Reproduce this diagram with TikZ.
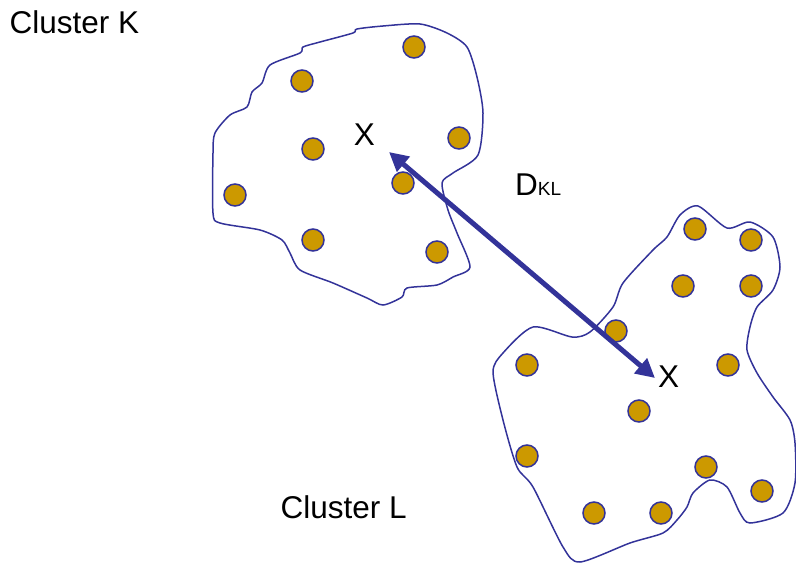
\documentclass[tikz,border=0pt]{standalone}
\usepackage{fontspec}
\setmainfont{Liberation Sans}
\usetikzlibrary{arrows.meta}
\definecolor{navy}{RGB}{51,51,153}
\definecolor{gold}{RGB}{204,153,0}
\tikzset{
  outline/.style={draw=navy, line width=1.5pt},
  dot/.style={circle, draw=navy, fill=gold, line width=1.5pt, minimum size=22pt, inner sep=0pt},
  lbl/.style={inner sep=0pt, anchor=base, font=\fontsize{31.5}{31.5}\selectfont},
  dist/.style={draw=navy, line width=5pt, {Triangle[length=19pt,width=19pt]}-{Triangle[length=19pt,width=19pt]}}
}
\begin{document}
\begin{tikzpicture}[x=1pt, y=-1pt]
\useasboundingbox (0,0) rectangle (796,565);

% outline of cluster K
\draw[outline] plot[smooth cycle, tension=0.45] coordinates {
  (420,24) (447,33) (467,47) (477,77) (483,113) (478,155) (453,173) (442,183)
  (448,210) (457,233) (470,267) (453,277) (437,285) (407,288) (402,297)
  (383,305) (367,298) (333,283) (300,270) (290,253) (282,240) (260,230)
  (220,223) (213,213) (213,153) (215,133) (230,115) (247,107) (252,92)
  (262,83) (270,65) (300,53) (303,47) (320,42) (353,33) (357,29) (383,26)};

% outline of cluster L
\draw[outline] plot[smooth cycle, tension=0.45] coordinates {
  (698,206) (727,228) (750,222) (773,237) (780,267) (773,290) (757,307)
  (750,327) (747,350) (757,373) (773,397) (790,420) (795,443) (795,483)
  (783,513) (750,523) (740,513) (727,487) (710,480) (693,493) (687,507)
  (677,520) (663,533) (630,543) (580,562) (563,547) (533,487) (517,467)
  (503,420) (493,372) (503,353) (533,327) (572,337) (590,332) (613,307)
  (623,283) (653,250) (667,237) (680,215)};

% members of cluster K
\node[dot] (k1) at (414,47) {};
\node[dot] (k2) at (302,81) {};
\node[dot] (k3) at (313,149) {};
\node[dot] (k4) at (459,138) {};
\node[dot] (k5) at (235,195) {};
\node[dot] (k6) at (403,183) {};
\node[dot] (k7) at (313,240) {};
\node[dot] (k8) at (437,252) {};

% members of cluster L
\node[dot] (l1) at (695,229) {};
\node[dot] (l2) at (751,240) {};
\node[dot] (l3) at (683,286) {};
\node[dot] (l4) at (751,286) {};
\node[dot] (l5) at (616,331) {};
\node[dot] (l6) at (527,365) {};
\node[dot] (l7) at (728,365) {};
\node[dot] (l8) at (639,411) {};
\node[dot] (l9) at (527,456) {};
\node[dot] (l10) at (706,467) {};
\node[dot] (l11) at (762,491) {};
\node[dot] (l12) at (594,513) {};
\node[dot] (l13) at (661,513) {};

% labels
\node[lbl, anchor=base west] (nameK) at (9.5,33) {Cluster K};
\node[lbl, anchor=base west] (nameL) at (280.5,518) {Cluster L};
\node[lbl] (xK) at (364.5,145) {X};
\node[lbl] (xL) at (668.5,387) {X};
\node[lbl, anchor=base west] (dKL) at (515,195) {D{\fontsize{19}{19}\selectfont KL}};

% distance between the two centroids
\coordinate (endK) at (389,152);
\coordinate (endL) at (655,378);
\draw[dist] (endK) -- (endL);
\end{tikzpicture}
\end{document}
